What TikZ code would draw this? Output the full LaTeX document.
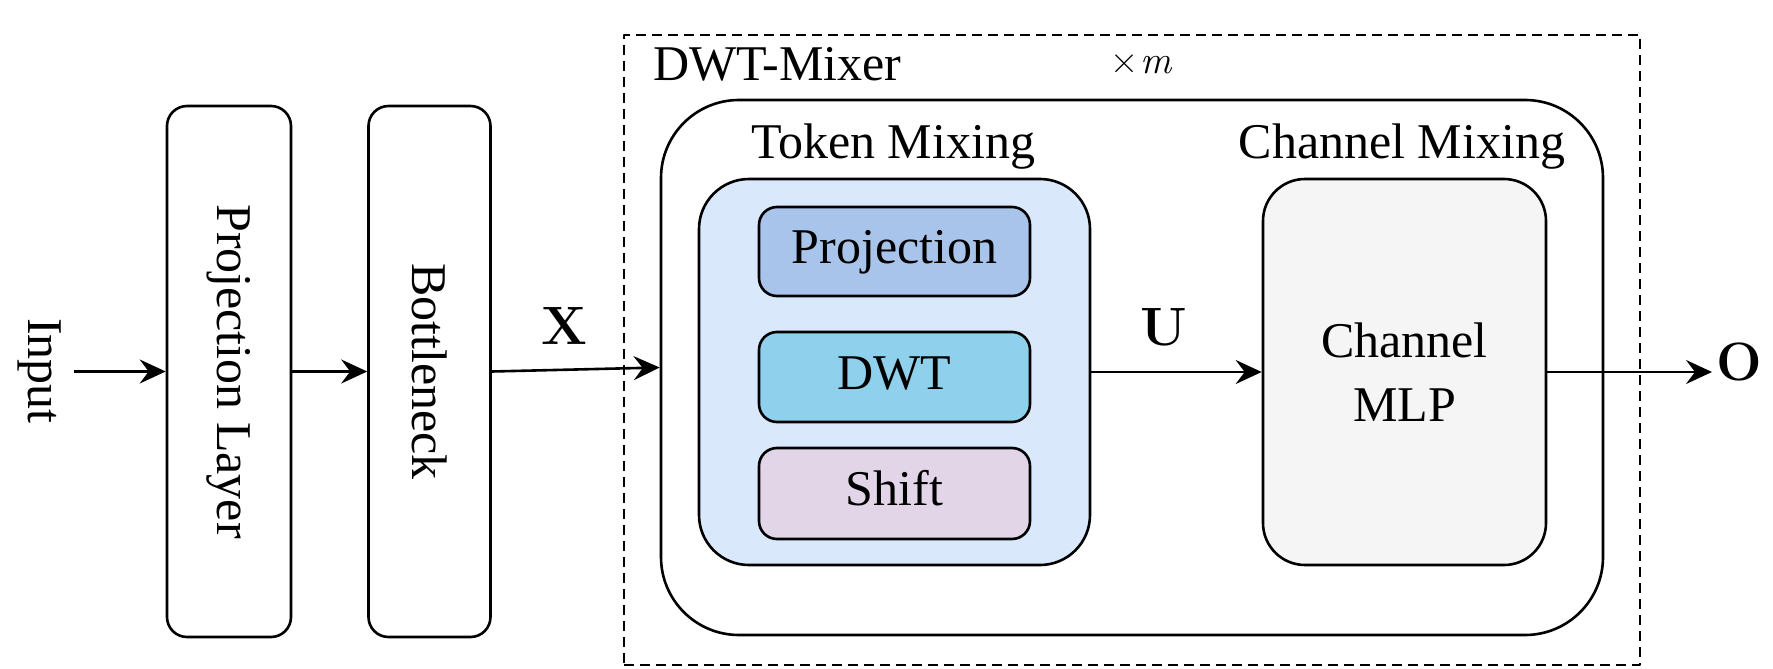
\documentclass[tikz,border=0pt]{standalone}
\usepackage{fontspec}
\setmainfont{Liberation Serif}
\newfontfamily\lmfont{Latin Modern Roman}
\usepackage{graphicx}
\usetikzlibrary{arrows.meta}
\definecolor{tokenfill}{HTML}{DAE8FC}
\definecolor{projfill}{HTML}{A9C4EB}
\definecolor{dwtfill}{HTML}{8FD0EC}
\definecolor{shiftfill}{HTML}{E1D5E7}
\definecolor{mlpfill}{HTML}{F5F5F5}
\begin{document}
\begin{tikzpicture}[x=1pt,y=-1pt,line join=round,
  every node/.style={font=\fontsize{50}{64}\selectfont},
  blk/.style={draw,line width=2.6pt,rounded corners=#1,inner sep=0pt},
  inner/.style={blk=18pt,minimum width=271pt,text height=35pt,text depth=11pt},
  lbl/.style={inner sep=0pt},
  bold/.style={inner sep=0pt,font=\fontsize{54}{60}\selectfont\lmfont\bfseries},
  arr/.style={line width=2.6pt,-{Stealth[length=26pt,width=24pt,inset=9pt]}}]
\useasboundingbox (0,0) rectangle (1773,669);
% dashed DWT-Mixer frame
\node[draw,line width=2.4pt,dash pattern=on 10pt off 6pt,inner sep=0pt,
      minimum width=1016pt,minimum height=630pt] (mixer) at (1132,350) {};
\node[lbl,anchor=base west] (mixlbl) at (653,81) {DWT-Mixer};
\node[lbl,anchor=base west,font=\fontsize{39}{45}\selectfont\lmfont] (times) at (1110,74) {×\kern2pt\textit{m}};
% left blocks
\node[blk=20pt,minimum width=124pt,minimum height=531pt] (pl) at (229,371.5) {\rotatebox{-90}{Projection Layer}};
\node[blk=20pt,minimum width=122pt,minimum height=531pt] (bn) at (429.5,371.5) {\rotatebox{-90}{Bottleneck}};
\node[lbl] (inlbl) at (40,371) {\rotatebox{-90}{Input}};
% outer mixer block
\node[blk=78pt,minimum width=942pt,minimum height=535pt] (outer) at (1132,367.5) {};
\node[lbl,anchor=base] (toklbl) at (893,158) {Token Mixing};
\node[lbl,anchor=base] (chlbl) at (1402,158) {Channel Mixing};
% token mixing
\node[blk=50pt,fill=tokenfill,minimum width=391pt,minimum height=386pt] (token) at (894.5,372) {};
\node[inner,fill=projfill,minimum height=89pt] (proj) at (894.5,251.5) {Projection};
\node[inner,fill=dwtfill,minimum height=90pt] (dwt) at (894.5,377) {DWT};
\node[inner,fill=shiftfill,minimum height=91pt] (shift) at (894.5,493.5) {Shift};
% channel mixing
\node[blk=42pt,fill=mlpfill,minimum width=283pt,minimum height=386pt,align=center] (mlp) at (1404.5,372) {Channel\\MLP};
% connectors
\coordinate (in) at (74,371.5);
\coordinate (out) at (1712,372);
\draw[arr] (in) -- (pl.west);
\draw[arr] (pl.east) -- (bn.west);
\draw[arr] (bn.east) -- (outer.west);
\draw[arr] (token.east) -- (mlp.west);
\draw[arr] (mlp.east) -- (out);
% labels
\node[bold,anchor=base] (xl) at (564,344) {X};
\node[bold,anchor=base] (ul) at (1164,345) {U};
\node[bold,anchor=base west] (ol) at (1716,380) {O};
\end{tikzpicture}
\end{document}
